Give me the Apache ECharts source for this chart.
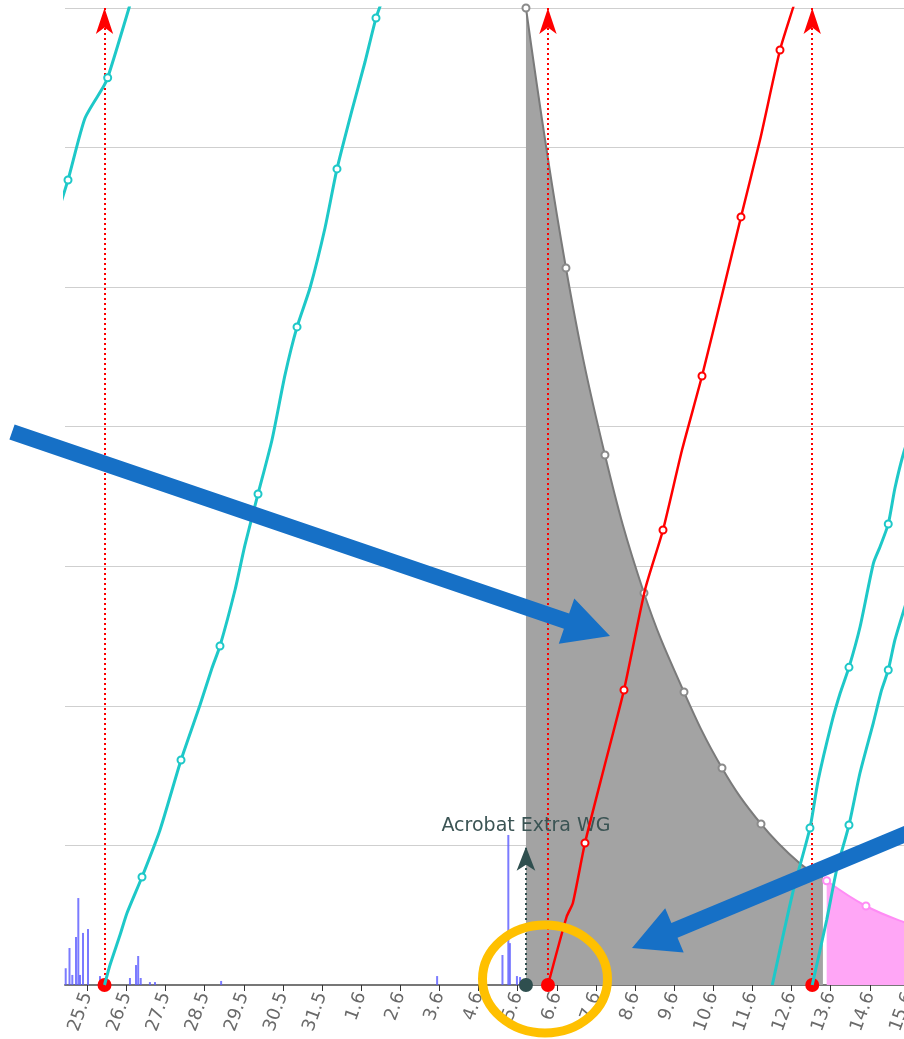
<!DOCTYPE html>
<html><head><meta charset="utf-8">
<script src="https://cdn.jsdelivr.net/npm/echarts@6/dist/echarts.min.js"></script>
<style>html,body{margin:0;padding:0;background:#fff}#c{width:904px;height:1039px}</style>
</head><body><div id="c"></div><script>
// x values are in days from 25.5 (0 = 25.5, 7 = 1.6 ...); y values in chart units (0..70)
const tickLabels = ['25.5','26.5','27.5','28.5','29.5','30.5','31.5','1.6','2.6','3.6','4.6','5.6','6.6','7.6','8.6','9.6','10.6','11.6','12.6','13.6','14.6','15.6'];

// histogram of items per time slot
const histogram = [[-0.552,1.20],[-0.455,2.65],[-0.383,0.72],[-0.289,3.44],[-0.23,6.23],[-0.187,0.72],[-0.11,3.73],[0.018,4.01],[0.325,0.64],[1.09,0.50],[1.245,1.43],[1.30,2.08],[1.365,0.50],[1.60,0.21],[1.73,0.21],[3.42,0.29],[8.94,0.64],[10.61,2.15],[10.76,10.75],[10.80,3.0],[10.98,0.64],[11.06,0.57],[12.23,0.43]];

// [day, value, shownMarker]
const tealA = [[-0.85,54.5,0],[-0.493,57.68,1],[-0.06,62.1,0],[0.40,64.3,0],[0.521,65.0,1],[1.066,70.0,0],[1.2,71.4,0]];
const tealB = [[0.44,0,0],[0.58,1.43,0],[0.836,3.58,0],[1.015,5.16,0],[1.398,7.74,1],[1.858,11.11,0],[2.395,16.12,1],[2.88,20.06,0],[3.187,22.71,0],[3.391,24.29,1],[3.775,28.3,0],[4.03,31.53,0],[4.363,35.18,1],[4.72,39.05,0],[5.053,43.71,0],[5.36,47.15,1],[5.691,49.94,0],[6.075,54.24,0],[6.381,58.47,1],[6.765,62.69,0],[7.097,66.13,0],[7.378,69.28,1],[7.6,71.0,0]];
const tealC = [[17.506,0,0],[18.04,6.74,0],[18.469,11.25,1],[18.68,14.69,0],[19.02,18.75,0],[19.24,20.90,0],[19.466,22.76,1],[19.75,25.67,0],[20.09,30.21,0],[20.26,31.40,0],[20.47,33.03,1],[20.64,35.59,0],[20.87,38.19,0],[21.1,40.0,0]];
const tealD = [[18.527,0,0],[18.896,4.66,0],[19.15,8.24,0],[19.466,11.46,1],[19.747,15.19,0],[20.087,18.77,0],[20.30,21.14,0],[20.47,22.57,1],[20.64,24.72,0],[20.87,26.87,0],[21.07,28.66,0]];
const redLine = [[11.773,0,0],[12.25,4.89,0],[12.41,5.88,0],[12.719,10.17,1],[13.205,15.55,0],[13.716,21.14,1],[14.252,28.3,0],[14.713,32.6,1],[15.199,38.33,0],[15.71,43.63,1],[16.221,49.44,0],[16.706,55.03,1],[17.192,60.54,0],[17.703,66.99,1],[18.035,70.0,0],[18.1,70.6,0]];
const grayArea = [[11.211,70.0,1],[12.233,51.37,1],[13.23,37.97,1],[14.227,28.09,1],[15.25,20.99,1],[16.221,15.55,1],[17.218,11.54,1],[18.214,8.7,0],[18.80,7.74,0]];
const pinkArea = [[18.896,7.47,1],[19.90,5.66,1],[20.92,4.45,0],[21.9,3.5,0]];

const releaseDays = [0.44, 11.773, 18.527];
const milestoneDay = 11.211;
const milestoneHeight = 9.9;
const milestoneLabel = 'Acrobat Extra WG';

const tickIdx = tickLabels.map((_, i) => i);
function pts(arr) { return arr.map(p => ({ value: [p[0], p[1]], symbol: p[2] ? 'emptyCircle' : 'none' })); }

const TEAL = '#1ec8c8';
function tealSeries(arr) {
  return { type: 'line', data: pts(arr), smooth: 0.2, showAllSymbol: true, symbolSize: 7,
    lineStyle: { color: TEAL, width: 3 }, itemStyle: { color: TEAL, borderWidth: 1.5 }, z: 6, silent: true };
}

const chart = echarts.init(document.getElementById('c'), null, { renderer: 'canvas' });
chart.setOption({
  animation: false,
  grid: { left: 65, right: -5, top: 8, bottom: 54, outerBoundsMode: 'none', containLabel: false },
  xAxis: {
    type: 'value', min: -0.57, max: 21,
    axisLine: { onZero: true, lineStyle: { color: '#777', width: 2 } },
    axisTick: { show: true, customValues: tickIdx, length: 6, lineStyle: { color: '#333', width: 1 } },
    axisLabel: { customValues: tickIdx, formatter: v => tickLabels[Math.round(v)], rotate: 70, fontSize: 18, fontFamily: 'DejaVu Sans', color: '#6a6a6a', margin: 8, hideOverlap: false },
    splitLine: { show: false }
  },
  yAxis: {
    type: 'value', min: 0, max: 70, interval: 10,
    axisLine: { show: false }, axisTick: { show: false }, axisLabel: { show: false },
    splitLine: { lineStyle: { color: '#cfcfcf', width: 1 } }
  },
  series: [
    { type: 'bar', data: histogram, barWidth: 2, itemStyle: { color: 'rgba(90,90,255,0.8)' }, z: 1, silent: true },
    { type: 'line', data: pts(grayArea), smooth: 0.4, showAllSymbol: true, symbolSize: 7,
      lineStyle: { color: '#7a7a7a', width: 2 }, itemStyle: { color: '#8a8a8a', borderWidth: 1.5 },
      areaStyle: { color: '#a3a3a3', opacity: 1 }, z: 2, silent: true,
      markLine: { silent: true, symbol: ['circle', 'arrow'],
        lineStyle: { color: '#2f4f4f', type: [2, 3], width: 2, opacity: 1 },
        data: [[{ coord: [milestoneDay, 0], symbolSize: 14 },
                { coord: [milestoneDay, milestoneHeight], symbolSize: [14, 24],
                  label: { show: true, position: 'end', formatter: milestoneLabel, fontSize: 19, fontFamily: 'DejaVu Sans', color: '#3b5454', distance: 11 } }]] } },
    { type: 'line', data: pts(pinkArea), smooth: 0.4, showAllSymbol: true, symbolSize: 7,
      lineStyle: { color: '#ff8cf5', width: 2 }, itemStyle: { color: '#ff8cf5', borderWidth: 1.5 },
      areaStyle: { color: '#ffa6f6', opacity: 1 }, z: 2, silent: true },
    { type: 'line', data: pts(redLine), smooth: 0.2, showAllSymbol: true, symbolSize: 7,
      lineStyle: { color: '#ff0000', width: 2.5 }, itemStyle: { color: '#ff0000', borderWidth: 1.5 }, z: 5, silent: true,
      markLine: { silent: true, symbol: ['circle', 'arrow'], label: { show: false },
        lineStyle: { color: 'rgb(255,0,0)', type: [2, 3], width: 2, opacity: 1 },
        data: releaseDays.map(d => [{ coord: [d, 0], symbolSize: 14 }, { coord: [d, 70], symbolSize: [13, 26] }]) } },
    tealSeries(tealA), tealSeries(tealB), tealSeries(tealC), tealSeries(tealD)
  ],
  graphic: [
    { type: 'polygon', z: 100, silent: true, shape: { points: [[14.6,424.4],[569.1,613.5],[574.3,598.4],[610,636],[558.8,643.8],[563.9,628.7],[9.4,439.6]] }, style: { fill: '#1670c6' } },
    { type: 'polygon', z: 100, silent: true, shape: { points: [[916.9,820.6],[671.4,922.9],[665.2,908.2],[632,948],[683.7,952.5],[677.5,937.7],[923.1,835.4]] }, style: { fill: '#1670c6' } },
    { type: 'ellipse', z: 100, silent: true, shape: { cx: 545, cy: 979, rx: 62.5, ry: 54 }, style: { fill: 'none', stroke: '#ffc000', lineWidth: 9 } }
  ]
});
</script></body></html>
